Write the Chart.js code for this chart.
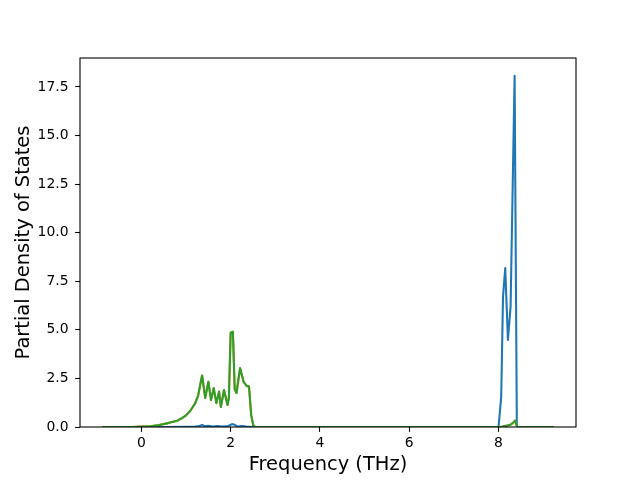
<!DOCTYPE html>
<html>
<head>
<meta charset="utf-8">
<script src="https://cdn.jsdelivr.net/npm/chart.js@4"></script>
<style>
  html, body { margin: 0; padding: 0; background: #ffffff; }
  canvas { display: block; }
</style>
</head>
<body>
<canvas id="c" width="640" height="480"></canvas>
<script>
// ---- Data ----
const xTicks = [0, 2, 4, 6, 8];
const yTicks = [0, 2.5, 5, 7.5, 10, 12.5, 15, 17.5];

const freqBlue = [-0.87, 0.5, 1.0, 1.2, 1.3, 1.36, 1.42, 1.5, 1.6, 1.7, 1.8, 1.95, 2.03, 2.08, 2.15, 2.25, 2.35, 2.5,
                  8.0, 8.06, 8.10, 8.15, 8.21, 8.27, 8.36, 8.41, 9.23];
const blue = [0, 0, 0.01, 0.02, 0.05, 0.1, 0.04, 0.06, 0.03, 0.05, 0.02, 0.05, 0.15, 0.12, 0.03, 0.05, 0.02, 0,
              0, 1.56, 6.7, 8.18, 4.48, 6.2, 18.08, 0, 0];

const freqOrange = [-0.87, -0.2, 0.0, 0.2, 0.4, 0.6, 0.8, 0.9, 1.0, 1.1, 1.2, 1.27, 1.32, 1.36, 1.43, 1.50, 1.56, 1.62,
                    1.68, 1.74, 1.78, 1.85, 1.93, 1.96, 2.0, 2.05, 2.09, 2.13, 2.21, 2.29, 2.36, 2.41, 2.46, 2.51, 2.55,
                    8.05, 8.15, 8.25, 8.32, 8.37, 8.42, 9.23];
const orange = [0, 0, 0.02, 0.04, 0.1, 0.2, 0.32, 0.44, 0.6, 0.85, 1.2, 1.6, 2.2, 2.65, 1.5, 2.33, 1.39, 2.0,
                1.23, 1.82, 1.03, 1.9, 1.13, 1.5, 4.85, 4.9, 1.95, 1.75, 3.03, 2.33, 2.1, 2.1, 0.6, 0.05, 0,
                0, 0.05, 0.1, 0.2, 0.33, 0, 0];

const freqGreen = [-0.87, -0.2, 0.0, 0.2, 0.4, 0.6, 0.8, 0.9, 1.0, 1.1, 1.2, 1.27, 1.32, 1.36, 1.43, 1.50, 1.56, 1.62,
                   1.68, 1.74, 1.78, 1.85, 1.93, 1.96, 2.0, 2.05, 2.09, 2.13, 2.21, 2.29, 2.36, 2.41, 2.46, 2.51, 2.55,
                   8.05, 8.15, 8.25, 8.32, 8.37, 8.42, 9.23];
const green = [0, 0, 0.02, 0.04, 0.1, 0.2, 0.32, 0.44, 0.6, 0.85, 1.2, 1.6, 2.2, 2.65, 1.5, 2.33, 1.39, 2.0,
               1.23, 1.82, 1.03, 1.9, 1.13, 1.5, 4.85, 4.9, 1.95, 1.75, 3.03, 2.33, 2.1, 2.1, 0.6, 0.05, 0,
               0, 0.05, 0.1, 0.2, 0.33, 0, 0];

const toPts = (xs, ys) => xs.map((x, i) => ({ x: x, y: ys[i] }));

const frame = {
  id: 'frame',
  afterDatasetsDraw(chart) {
    const a = chart.chartArea, ctx = chart.ctx;
    ctx.save();
    ctx.strokeStyle = '#000';
    ctx.lineWidth = 1.1;
    ctx.strokeRect(a.left, a.top, a.right - a.left, a.bottom - a.top);
    ctx.restore();
  }
};

const FONT = "'DejaVu Sans', sans-serif";

new Chart(document.getElementById('c'), {
  type: 'line',
  data: {
    datasets: [
      { data: toPts(freqBlue, blue), borderColor: '#1f77b4', order: 2 },
      { data: toPts(freqOrange, orange), borderColor: '#ff7f0e', order: 1 },
      { data: toPts(freqGreen, green), borderColor: '#2ca02c', order: 0 }
    ]
  },
  options: {
    responsive: false,
    animation: false,
    devicePixelRatio: 1,
    layout: { padding: { left: 0, right: 64, top: 58, bottom: 0 } },
    elements: {
      point: { radius: 0 },
      line: { borderWidth: 2.08, tension: 0, fill: false, borderJoinStyle: 'round', borderCapStyle: 'butt' }
    },
    plugins: { legend: { display: false }, tooltip: { enabled: false } },
    scales: {
      x: {
        type: 'linear',
        min: -1.375, max: 9.735,
        afterBuildTicks: s => { s.ticks = xTicks.map(v => ({ value: v })); },
        afterFit: s => { s.height = 53; },
        ticks: { color: '#000', font: { family: FONT, size: 13.9 }, padding: 3, maxRotation: 0,
                 callback: v => String(v) },
        grid: { drawOnChartArea: false, drawTicks: true, tickLength: 4.86, tickWidth: 1.1, tickColor: '#000' },
        border: { display: false },
        title: { display: true, text: 'Frequency (THz)', color: '#000',
                 font: { family: FONT, size: 19.44 }, padding: { top: 0, bottom: 3 } }
      },
      y: {
        type: 'linear',
        min: 0, max: 18.99,
        afterBuildTicks: s => { s.ticks = yTicks.map(v => ({ value: v })); },
        afterFit: s => { s.width = 80; },
        ticks: { color: '#000', font: { family: FONT, size: 13.9 }, padding: 6.6,
                 callback: v => v.toFixed(1) },
        grid: { drawOnChartArea: false, drawTicks: true, tickLength: 4.86, tickWidth: 1.1, tickColor: '#000' },
        border: { display: false },
        title: { display: true, text: 'Partial Density of States', color: '#000',
                 font: { family: FONT, size: 19.44 }, padding: { top: 12.6, bottom: 0 } }
      }
    }
  },
  plugins: [frame]
});
</script>
</body>
</html>
